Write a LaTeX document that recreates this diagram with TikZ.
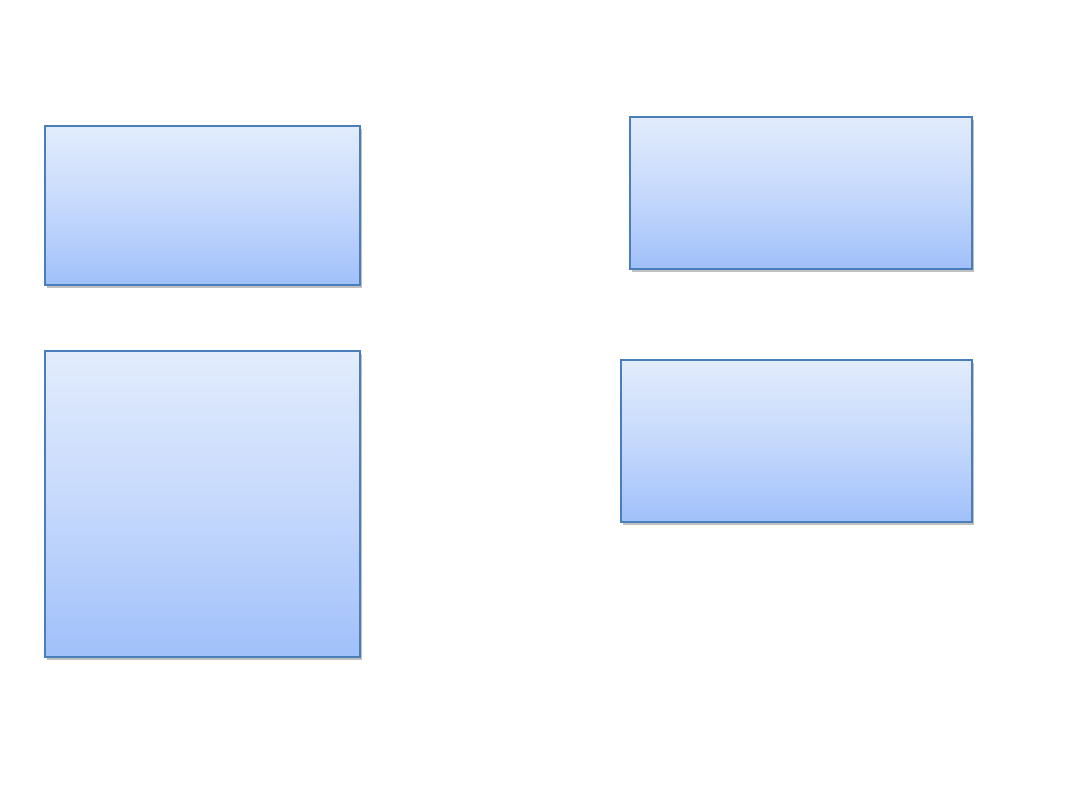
\documentclass[tikz,border=0pt]{standalone}
\usetikzlibrary{shadows}
\definecolor{boxtop}{HTML}{E2ECFC}
\definecolor{boxmid}{HTML}{C6D9FC}
\definecolor{boxbot}{HTML}{A0C0FA}
\definecolor{boxedge}{HTML}{4A7EBB}
\tikzset{
  gbox/.style={draw=boxedge, line width=0.7pt, top color=boxtop, bottom color=boxbot, middle color=boxmid,
    rectangle, inner sep=0pt, outer sep=0pt,
    drop shadow={shadow xshift=0.8pt, shadow yshift=-1.5pt, opacity=0.35, fill=black!70}}
}
\begin{document}
\begin{tikzpicture}[x=0.5pt,y=-0.5pt]
\useasboundingbox[fill=white] (0,0) rectangle (1080,810);
\node[gbox, minimum width=157.5pt, minimum height=79.5pt] (b1) at (202.5,205.5) {};
\node[gbox, minimum width=157.5pt, minimum height=153pt] (b2) at (202.5,504) {};
\node[gbox, minimum width=171pt, minimum height=76pt] (b3) at (801,193) {};
\node[gbox, minimum width=175.5pt, minimum height=81pt] (b4) at (796.5,441) {};
\end{tikzpicture}
\end{document}
